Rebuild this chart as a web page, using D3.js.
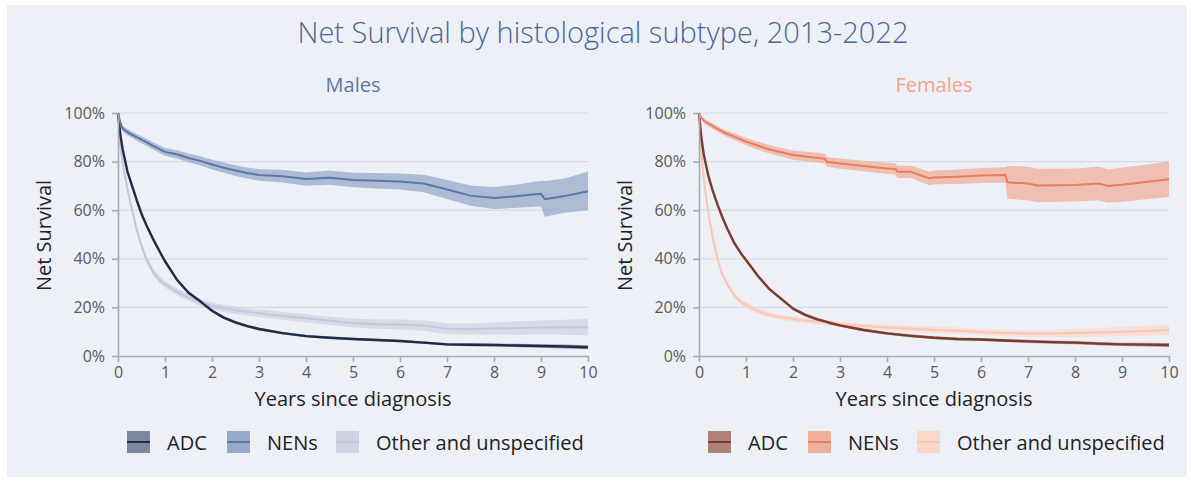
<!DOCTYPE html>
<html>
<head>
<meta charset="utf-8">
<script src="https://cdn.jsdelivr.net/npm/d3@7"></script>
<style>
body { margin: 0; background: #ffffff; }
text { font-family: "Open Sans", Lato, sans-serif; }
</style>
</head>
<body>
<script>
// ---- data (survival in %) ----
var subtypes = ["ADC", "NENs", "Other and unspecified"];
var sexes = ["Males", "Females"];
var xTicks = [0, 1, 2, 3, 4, 5, 6, 7, 8, 9, 10];
var yTicks = [0, 20, 40, 60, 80, 100];

var yearsCurve = [0,0.05,0.1,0.2,0.3,0.4,0.5,0.6,0.75,0.9,1,1.25,1.5,1.75,2,2.25,2.5,2.75,3,3.5,4,4.5,5,5.5,6,6.5,7,7.5,8,8.5,9,9.5,10];

var malesADC   = [100,91,85,76,70,64,58.5,54,48,42.5,39,31.5,26,22.5,18.6,15.8,13.8,12.3,11.1,9.4,8.2,7.5,7.0,6.6,6.2,5.5,4.8,4.6,4.5,4.3,4.1,3.9,3.6];
var malesADCLo = [100,90.3,84.3,75.3,69.3,63.3,57.8,53.3,47.3,41.8,38.3,30.8,25.4,21.9,18.0,15.2,13.2,11.7,10.5,8.9,7.7,7.0,6.5,6.1,5.7,5.0,4.2,4.0,3.9,3.6,3.4,3.1,2.8];
var malesADCHi = [100,91.7,85.7,76.7,70.7,64.7,59.2,54.7,48.7,43.2,39.7,32.2,26.6,23.1,19.2,16.4,14.4,12.9,11.7,9.9,8.7,8.0,7.5,7.1,6.7,6.0,5.4,5.2,5.1,5.0,4.8,4.7,4.4];

var malesOther   = [100,86,79,69,60,52,45.5,40,34.5,31,29.5,26.5,24,22,20.6,19.6,18.8,18.2,17.6,16.5,15.5,14.5,13.6,13.1,13.0,12.5,11.2,11.1,11.3,11.5,11.7,11.8,11.8];
var malesOtherLo = [100,84.5,77.5,67.5,58.5,50.5,44,38.5,33,29.6,28.1,25.1,22.6,20.6,19.2,18.1,17.3,16.7,16,14.9,13.8,12.8,11.8,11.2,11,10.4,9,8.8,8.8,8.8,8.8,8.7,8.4];
var malesOtherHi = [100,87.5,80.5,70.5,61.5,53.5,47,41.5,36,32.4,30.9,27.9,25.4,23.4,22,21.1,20.3,19.7,19.2,18.1,17.2,16.2,15.4,15,15,14.6,13.4,13.4,13.8,14.2,14.6,14.9,15.2];

var malesNENsYears = [0,0.05,0.1,0.25,0.5,0.75,1,1.25,1.5,1.75,2,2.25,2.5,2.75,3,3.5,4,4.5,5,5.5,6,6.5,7,7.5,8,8.5,9,9.08,9.5,10];
var malesNENs   = [100,96,93.5,91.5,89,86.5,84,83,81.5,80.3,78.8,77.5,76.3,75.3,74.5,74,72.8,73.4,72.4,72.1,71.8,71,68.5,66,65,65.8,66.8,64.5,65.8,67.8];
var malesNENsLo = [100,95,92.3,90.2,87.6,85,82.4,81.3,79.7,78.4,76.8,75.4,74.1,73,72.1,71.4,70.1,70.5,69.4,68.9,68.5,67.4,64.6,61.8,60.5,61,61.5,57.3,59,60];
var malesNENsHi = [100,97,94.7,92.8,90.4,88,85.6,84.7,83.3,82.2,80.8,79.6,78.5,77.6,76.9,76.6,75.5,76.3,75.4,75.3,75.1,74.6,72.4,70.2,69.5,70.6,72.1,72,73,75.9];

var femalesADC   = [100,90,83,74,67.5,62,57,52.5,46.5,42,39.5,33,27.5,23.5,19.5,17,15.2,13.8,12.6,10.7,9.3,8.3,7.5,7.0,6.8,6.4,6.0,5.7,5.5,5.1,4.8,4.7,4.5];
var femalesADCLo = [100,89.4,82.4,73.4,66.9,61.4,56.4,51.9,45.9,41.4,38.9,32.4,26.9,22.9,18.9,16.4,14.6,13.2,12,10.1,8.7,7.7,6.9,6.4,6.2,5.8,5.3,5,4.8,4.4,4.1,3.9,3.7];
var femalesADCHi = [100,90.6,83.6,74.6,68.1,62.6,57.6,53.1,47.1,42.6,40.1,33.6,28.1,24.1,20.1,17.6,15.8,14.4,13.2,11.3,9.9,8.9,8.1,7.6,7.4,7.0,6.7,6.4,6.2,5.8,5.5,5.5,5.3];

var femalesOther   = [100,84,73,59,48,39.5,33.5,29.5,25,22.2,21,18.5,16.9,15.9,15.3,14.6,14.1,13.6,13.1,12.3,11.7,11.2,10.8,10.4,9.9,9.5,9.3,9.3,9.5,9.7,10,10.3,10.7];
var femalesOtherLo = [100,82.5,71.5,57.5,46.6,38.2,32.3,28.3,23.9,21.1,19.9,17.4,15.8,14.8,14.2,13.5,13,12.5,12,11.2,10.5,10,9.5,9.1,8.6,8.1,7.8,7.7,7.8,7.9,8.1,8.3,8.6];
var femalesOtherHi = [100,85.5,74.5,60.5,49.4,40.8,34.7,30.7,26.1,23.3,22.1,19.6,18,17,16.4,15.7,15.2,14.7,14.2,13.4,12.9,12.4,12.1,11.7,11.2,10.9,10.8,10.9,11.2,11.5,11.9,12.3,12.8];

var femalesNENsYears = [0,0.05,0.13,0.5,1,1.5,2,2.5,2.68,2.72,3,3.5,4,4.18,4.22,4.5,4.7,4.9,5,5.5,6,6.52,6.56,7,7.2,8,8.5,8.7,9,9.5,10];
var femalesNENs   = [100,98,96.4,92.3,88.2,85,82.7,81.6,81.2,79.9,79.2,78.2,77.2,77,75.8,75.8,74.5,73.1,73.5,73.8,74.3,74.5,71.5,71,70.2,70.4,71,70,70.5,71.6,72.7];
var femalesNENsLo = [100,97.2,95.4,91.1,86.7,83.3,80.8,79.6,79.2,77.9,77.1,76,74.9,74.7,73.3,73.2,71.8,70.3,70.7,70.8,71.2,71.3,64.7,64.1,63.3,63.6,64.1,63.1,63.5,64.5,65.4];
var femalesNENsHi = [100,98.8,97.4,93.5,89.7,86.7,84.6,83.6,83.2,81.9,81.3,80.4,79.5,79.3,78.3,78.4,77.2,75.9,76.3,76.8,77.4,77.7,78.3,77.9,77.1,77.2,77.9,76.9,77.5,78.7,80];

// colours: [ADC, NENs, Other]
var malesLine   = ["#1f2b47", "#5d77a5", "#c3c8d9"];
var malesBand   = ["#7d869d", "#98a9c9", "#cfd3e2"];
var femalesLine = ["#7a3b2c", "#e77c5e", "#f8c6b2"];
var femalesBand = ["#ad8179", "#efb09b", "#f9d8cb"];

// ---- layout ----
var W = 1191, H = 481;
var plotW = 470, plotH = 243, plotTop = 113;
var panelLeft = [118, 699];

function series(years, mid, lo, hi) {
    return years.map(function(t, i) { return {t: t, v: mid[i], lo: lo[i], hi: hi[i]}; });
}

var panels = [
    {name: "Males", color: "#5b77a8", lines: malesLine, bands: malesBand,
     series: [series(yearsCurve, malesADC, malesADCLo, malesADCHi),
              series(malesNENsYears, malesNENs, malesNENsLo, malesNENsHi),
              series(yearsCurve, malesOther, malesOtherLo, malesOtherHi)]},
    {name: "Females", color: "#f2a58b", lines: femalesLine, bands: femalesBand,
     series: [series(yearsCurve, femalesADC, femalesADCLo, femalesADCHi),
              series(femalesNENsYears, femalesNENs, femalesNENsLo, femalesNENsHi),
              series(yearsCurve, femalesOther, femalesOtherLo, femalesOtherHi)]}
];

var svg = d3.select("body").append("svg")
    .attr("width", W)
    .attr("height", H);

svg.append("rect")
    .attr("x", 7).attr("y", 5)
    .attr("width", W - 11).attr("height", H - 9)
    .attr("fill", "#edf0f7");

svg.append("text")
    .attr("x", 603).attr("y", 43)
    .attr("text-anchor", "middle")
    .attr("font-size", 29)
    .attr("font-weight", 300)
    .attr("fill", "#4d6594")
    .text("Net Survival by histological subtype, 2013-2022");

var xScale = d3.scaleLinear().domain([0, 10]).range([0, plotW]);
var yScale = d3.scaleLinear().domain([0, 100]).range([plotH, 0]);

// draw order: Other, ADC, NENs bands then lines
var order = [2, 0, 1];
var lineWidth = [2.4, 2, 2];

panels.forEach(function(p, pi) {
    var g = svg.append("g")
        .attr("transform", "translate(" + panelLeft[pi] + "," + plotTop + ")");

    g.append("text")
        .attr("x", plotW / 2).attr("y", -21)
        .attr("text-anchor", "middle")
        .attr("font-size", 20)
        .attr("fill", p.color)
        .text(p.name);

    // grid
    g.selectAll(".grid")
        .data(yTicks.filter(function(d) { return d > 0; }))
        .enter().append("line")
        .attr("x1", 0).attr("x2", plotW)
        .attr("y1", function(d) { return yScale(d); })
        .attr("y2", function(d) { return yScale(d); })
        .attr("stroke", "#d7dae2")
        .attr("stroke-width", 1.2);

    var area = d3.area()
        .x(function(d) { return xScale(d.t); })
        .y0(function(d) { return yScale(d.lo); })
        .y1(function(d) { return yScale(d.hi); });

    var line = d3.line()
        .x(function(d) { return xScale(d.t); })
        .y(function(d) { return yScale(d.v); });

    order.forEach(function(k) {
        g.append("path")
            .attr("d", area(p.series[k]))
            .attr("fill", p.bands[k])
            .attr("opacity", 0.75);
    });
    order.forEach(function(k) {
        g.append("path")
            .attr("d", line(p.series[k]))
            .attr("fill", "none")
            .attr("stroke", p.lines[k])
            .attr("stroke-width", lineWidth[k])
            .attr("stroke-linejoin", "round");
    });

    var xAxis = d3.axisBottom(xScale)
        .tickValues(xTicks)
        .tickSizeInner(6)
        .tickSizeOuter(0)
        .tickPadding(5);

    var yAxis = d3.axisLeft(yScale)
        .tickValues(yTicks)
        .tickSizeInner(6)
        .tickSizeOuter(0)
        .tickPadding(7)
        .tickFormat(function(d) { return d + "%"; });

    var gx = g.append("g")
        .attr("transform", "translate(0," + plotH + ")")
        .call(xAxis);
    var gy = g.append("g").call(yAxis);

    [gx, gy].forEach(function(a) {
        a.select(".domain").attr("stroke", "#a9abb0").attr("stroke-width", 1.6);
        a.selectAll(".tick line").attr("stroke", "#a9abb0").attr("stroke-width", 1.6);
        a.selectAll(".tick text")
            .attr("font-family", "'Open Sans', sans-serif")
            .attr("font-size", 16)
            .attr("fill", "#595959");
    });

    g.append("text")
        .attr("x", plotW / 2).attr("y", plotH + 50)
        .attr("text-anchor", "middle")
        .attr("font-size", 20)
        .attr("fill", "#222")
        .text("Years since diagnosis");

    g.append("text")
        .attr("transform", "translate(-67," + (plotH / 2 + 1) + ") rotate(-90)")
        .attr("text-anchor", "middle")
        .attr("font-size", 20)
        .attr("fill", "#222")
        .text("Net Survival");

    // legend
    var legX = [9, 109, 218];
    var leg = g.selectAll(".leg")
        .data(subtypes)
        .enter().append("g")
        .attr("transform", function(d, i) { return "translate(" + legX[i] + "," + (plotH + 75) + ")"; });

    leg.append("rect")
        .attr("width", 23).attr("height", 22)
        .attr("fill", function(d, i) { return p.bands[i]; });
    leg.append("line")
        .attr("x1", 0).attr("x2", 23)
        .attr("y1", 11).attr("y2", 11)
        .attr("stroke", function(d, i) { return p.lines[i]; })
        .attr("stroke-width", 2);
    leg.append("text")
        .attr("x", 40).attr("y", 19)
        .attr("font-size", 20)
        .attr("fill", "#222")
        .text(function(d) { return d; });
});
</script>
</body>
</html>
